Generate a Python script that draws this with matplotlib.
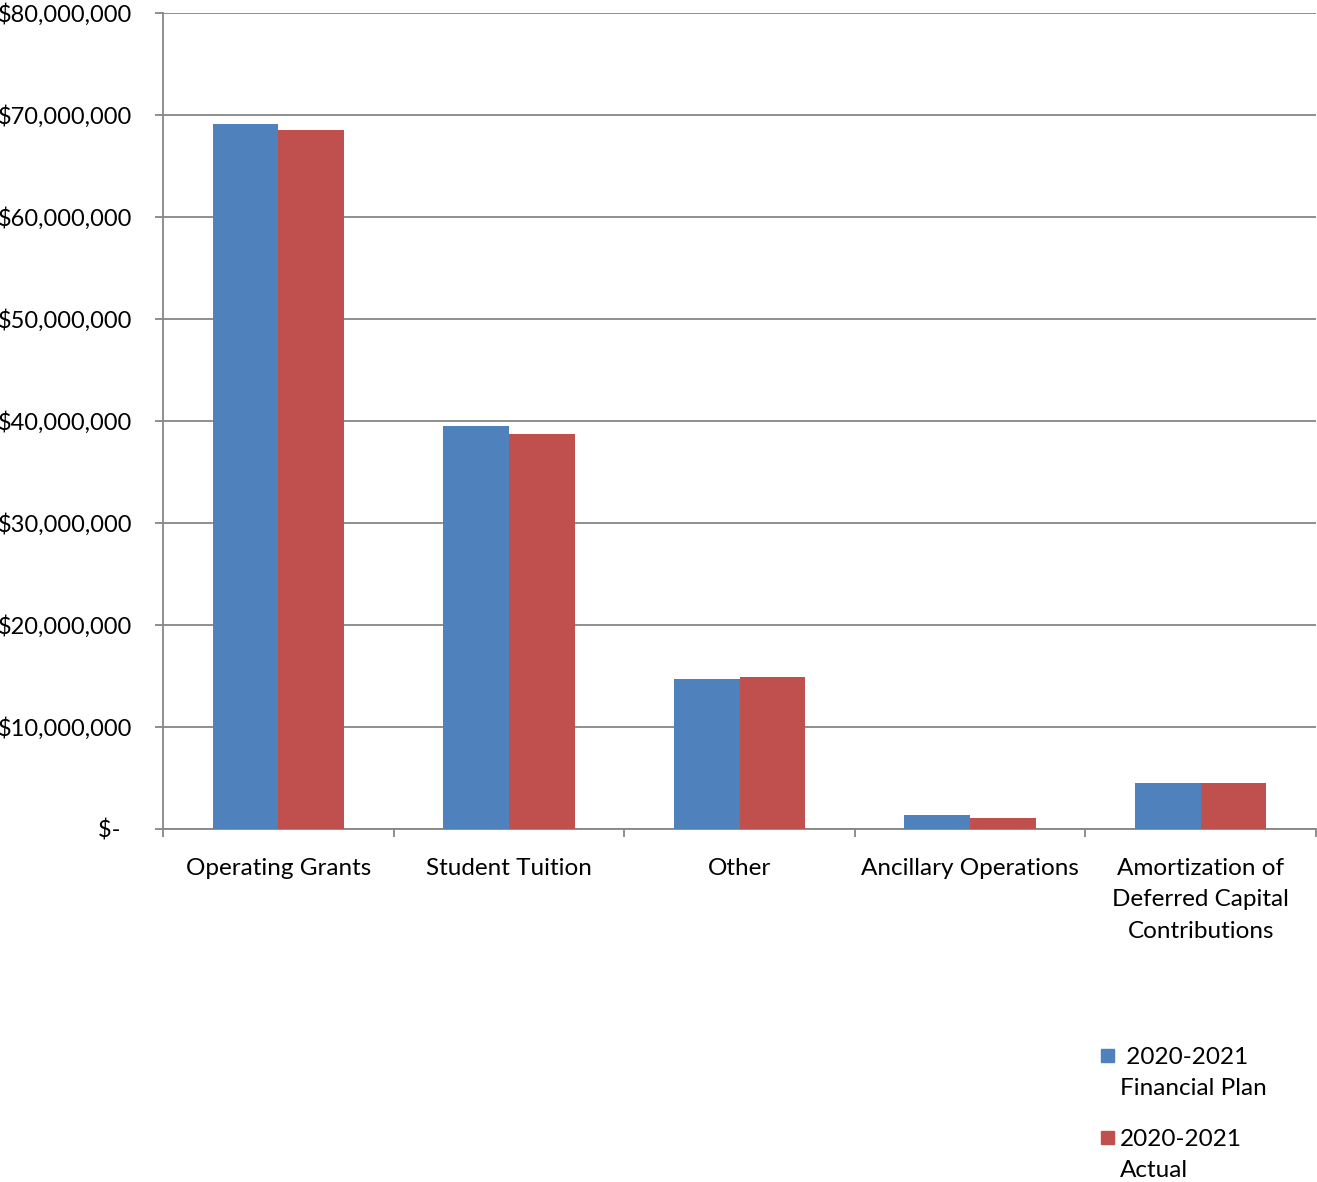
import matplotlib.pyplot as plt
from matplotlib.patches import Rectangle
from matplotlib.ticker import FuncFormatter
import numpy as np

plt.rcParams['font.family'] = ['Lato', 'DejaVu Sans']

categories = ['Operating Grants', 'Student Tuition', 'Other', 'Ancillary Operations',
              'Amortization of\nDeferred Capital\nContributions']
plan = [69100000, 39500000, 14700000, 1350000, 4500000]
actual = [68500000, 38700000, 14900000, 1100000, 4500000]
series_labels = [' 2020-2021\nFinancial Plan', '2020-2021\nActual']
colors = ['#4F81BD', '#C0504D']
grid_color = '#868686'

fig = plt.figure(figsize=(13.17, 11.82), dpi=100)
ax = fig.add_axes([163/1317, 1 - 829/1182, 1153/1317, 816/1182])

x = np.arange(len(categories))
w = 0.285
ax.bar(x - w/2, plan, w, color=colors[0], zorder=3)
ax.bar(x + w/2, actual, w, color=colors[1], zorder=3)

ax.set_xlim(-0.5, len(categories) - 0.5)
ax.set_ylim(0, 80000000)
ax.set_yticks(np.arange(0, 80000001, 10000000))

def money(v, pos):
    if v == 0:
        return '$-  '
    return f'${v:,.0f}'

ax.yaxis.set_major_formatter(FuncFormatter(money))
ax.yaxis.grid(True, color=grid_color, linewidth=1.3, zorder=0)
ax.tick_params(axis='y', length=6, width=1.3, color=grid_color, pad=16, labelsize=17)

ax.set_xticks(np.arange(-0.5, len(categories)), minor=False)
ax.set_xticklabels([])
ax.set_xticks(x, minor=True)
ax.set_xticklabels(categories, minor=True, fontsize=17.5, linespacing=1.6, va='top')
ax.tick_params(axis='x', which='major', length=6, width=1.3, color=grid_color)
ax.tick_params(axis='x', which='minor', length=0, pad=21)

for s in ['top', 'right']:
    ax.spines[s].set_visible(False)
for s in ['left', 'bottom']:
    ax.spines[s].set_color(grid_color)
    ax.spines[s].set_linewidth(1.3)

# legend drawn by hand so the square sits beside the first line
for i, (lab, c) in enumerate(zip(series_labels, colors)):
    ytop = 1049 + i * 82
    fig.patches.append(Rectangle((1101/1317, 1 - (ytop + 13)/1182), 13/1317, 13/1182,
                                 transform=fig.transFigure, color=c))
    fig.text(1120/1317, 1 - (ytop - 2)/1182, lab, fontsize=17.5, va='top', ha='left',
             linespacing=1.6)

fig.savefig('out.png', dpi=100)
